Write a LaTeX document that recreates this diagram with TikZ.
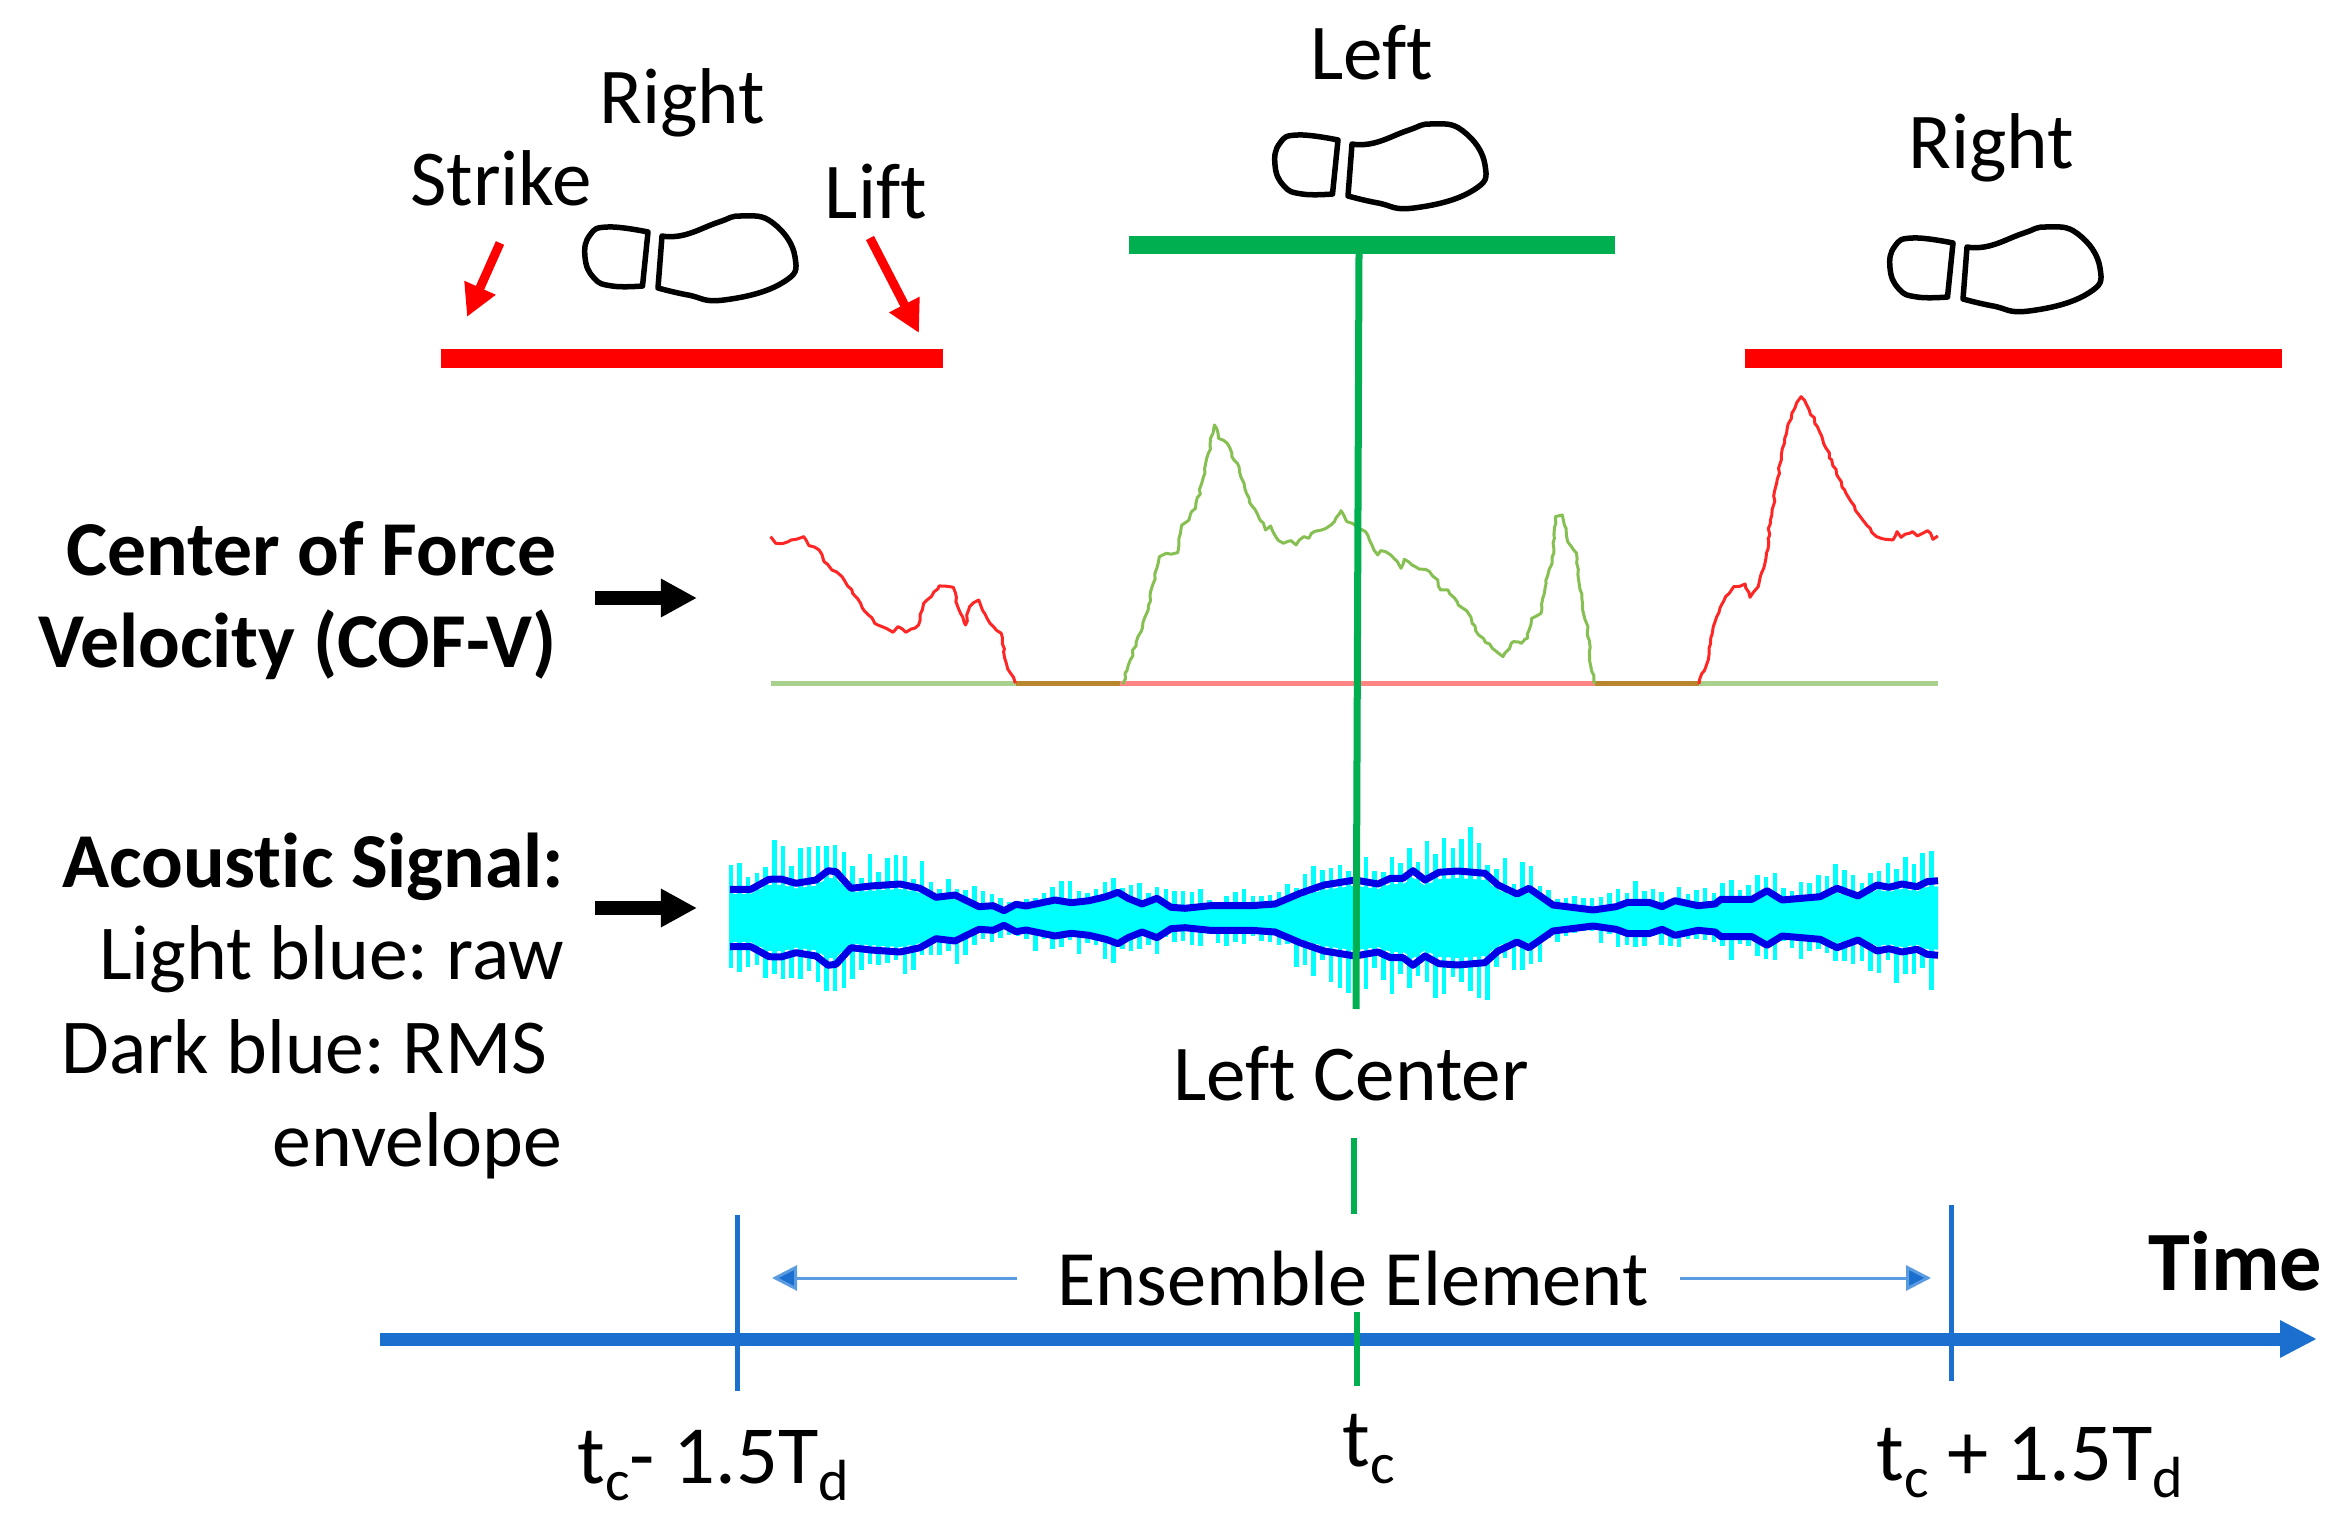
\documentclass[tikz,border=0pt]{standalone}
\usepackage{fontspec}
\setmainfont{Carlito}[Ligatures=NoCommon]
\frenchspacing
\usetikzlibrary{arrows.meta,decorations.pathmorphing}
\definecolor{axisblue}{HTML}{1A6FCF}
\definecolor{thinblue}{HTML}{5B9BE0}
\definecolor{markgreen}{HTML}{00B050}
\definecolor{cofgreen}{HTML}{86BF52}
\definecolor{basegreen}{HTML}{A9D18E}
\definecolor{basered}{HTML}{FF8585}
\definecolor{basebrown}{HTML}{B8862D}
\definecolor{rawcyan}{HTML}{00FFFF}
\definecolor{rmsblue}{HTML}{0000E6}
\newcommand{\lowtext}[1]{\raisebox{-5pt}{\fontsize{16.5}{16.5}\selectfont #1}}
% half width of the envelope along the time axis
\newcommand{\envlist}{751/28.7,769/38.7,781/39,796/34.7,816/38,828/47.3,836/46.3,851/29.7,871/32,900/34,920/29.7,936/20.7,955/23,979/11.3,993/12.3,1004/7.3,1016/13.7,1026/12,1055/18,1071/15.3,1089/17.3,1106/21.3,1118/25.7,1128/19.7,1142/14,1157/19.7,1171/10.7,1185/9.7,1210/12.3,1251/12.3,1275/14,1300/24.7,1324/33,1355/38,1378/34,1390.5/39.7,1403/39.7,1413/47.3,1425/38,1439/45.7,1458/47,1485/44.7,1498/33,1517/24,1529/29.7,1553/13,1593/8,1616/11.3,1628/15.7,1649/15.7,1662/11.3,1675/17.3,1698/12.3,1715/14,1721/18.7,1752/18.7,1767/27.3,1782/18,1820/21.3,1837/29.7,1858/22,1877/33,1889/30.7,1902/34,1917/31.3,1927/36.3,1938/37.3}

\begin{document}
\begin{tikzpicture}[x=.01cm, y=-.01cm,
        txt/.style={
            % The font:
            font=\fontsize{22.5}{26}\selectfont,
            % No padding round the text
            inner sep=0pt},
        boldtxt/.style={txt, font=\fontsize{22.1}{26}\selectfont\bfseries, anchor=base east},
        sidetxt/.style={txt, font=\fontsize{22.1}{26}\selectfont, anchor=base east},
        axistxt/.style={txt, font=\fontsize{23.5}{27}\selectfont, anchor=base west},
        footline/.style={line width=.055cm, line join=round},
        redarrow/.style={red, line width=.09cm, -{Triangle[length=.32cm, width=.32cm]}},
        blackarrow/.style={black, line width=.13cm, -{Triangle[length=.36cm, width=.36cm]}},
        spanarrow/.style={thinblue, line width=.03cm, -{Triangle[length=.25cm, width=.25cm, fill=axisblue]}},
        tick/.style={axisblue, line width=.05cm},
        greenline/.style={markgreen, line width=.055cm},
        cofline/.style={line width=.03cm, line join=round, decorate,
            decoration={random steps, segment length=.05cm, amplitude=.012cm}},
        baseline/.style={line width=.05cm}]
        \useasboundingbox (0,0) rectangle (2342,1528);
        \pgfmathsetseed{11}

        % footprints
        \foreach \x/\y in {0/0,690/-92,1305/11}{
          \begin{scope}[shift={(\x,\y)}]
            \draw [footline] plot [smooth, tension=.8] coordinates {(648,232) (608,227) (590,235) (585,257) (594,278) (612,286) (642.5,286)} -- cycle;
            \draw [footline] plot [smooth, tension=.8] coordinates {(662,236) (684,235) (719,222) (742,216) (773,223) (795,257) (782,283) (724,300) (688,295) (658,288)} -- cycle;
          \end{scope}
        }
        % stance bars
        \fill [red] (441,349) rectangle (943,368);
        \fill [markgreen] (1129,236) rectangle (1615,254);
        \fill [red] (1745,349) rectangle (2282,368);

        \coordinate (strikeFrom) at (500,243);
        \coordinate (strikeTo) at (467,317);
        \coordinate (liftFrom) at (870,238);
        \coordinate (liftTo) at (919,333);
        \draw [redarrow] (strikeFrom) -- (strikeTo);
        \draw [redarrow] (liftFrom) -- (liftTo);

        % COF-V traces
        \draw [baseline, basegreen] (771,684) -- (1016,684);
        \draw [baseline, basebrown] (1016,684) -- (1120,684);
        \draw [baseline, basered] (1120,684) -- (1595,684);
        \draw [baseline, basebrown] (1595,684) -- (1699,684);
        \draw [baseline, basegreen] (1699,684) -- (1938,684);
        \begin{scope}[shift={(740,380)}, xscale=.5102, yscale=.3333]
          \draw [cofline, red!85!white] plot coordinates {(60,470) (70,490) (85,490) (100,480) (125,470) (135,497) (155,510) (165,545) (180,570) (200,590) (230,655) (245,695) (270,735) (300,757) (310,740) (325,757) (350,735) (360,670) (375,650) (390,618) (418,622) (428,685) (442,735) (450,680) (468,660) (490,730) (512,760) (522,850) (540,910)};
          \draw [cofline, cofgreen] plot coordinates {(750,912) (765,840) (780,770) (800,690) (810,610) (822,530) (835,520) (858,518) (866,435) (880,420) (885,395) (893,385) (905,310) (918,220) (930,135) (938,175) (955,190) (968,240) (978,260) (988,310) (1002,375) (1015,405) (1030,450) (1040,438) (1050,470) (1065,490) (1080,482) (1090,495) (1105,470) (1115,475) (1120,460) (1140,450) (1165,425) (1178,392) (1190,425) (1208,440)};
        \end{scope}
        \begin{scope}[shift={(1350,380)}, xscale=.4082, yscale=.3333]
          \draw [cofline, cofgreen] plot coordinates {(15,445) (38,455) (68,525) (75,512) (100,525) (125,565) (133,538) (160,560) (195,575) (215,600) (222,630) (240,630) (265,675) (290,700) (315,765) (375,830) (400,785) (420,790) (435,775) (445,715) (468,700) (480,600) (495,550) (503,410) (520,405) (533,485) (555,520) (570,690) (583,740) (590,860) (600,912)};
          \draw [cofline, red!85!white] plot coordinates {(855,912) (880,820) (890,740) (910,675) (940,620) (968,612) (980,652) (1000,620) (1020,520) (1030,420) (1045,310) (1065,175) (1085,95) (1105,50) (1125,90) (1145,140) (1160,190) (1180,240) (1195,290) (1215,340) (1250,410) (1290,470) (1330,480) (1340,455) (1350,472) (1378,455) (1390,468) (1415,452) (1428,478) (1440,468)};
        \end{scope}

        % raw signal
        \foreach \x/\a [remember=\x as \px (initially 730), remember=\a as \pa (initially 28.7)] in \envlist {
          \fill [rawcyan] (\px,{918-.85*\pa}) -- (\x,{918-.85*\a}) -- (\x,{918+.85*\a}) -- (\px,{918+.85*\pa}) -- cycle;
          \pgfmathtruncatemacro\ka{ceil(\px/8.7)}
          \pgfmathtruncatemacro\kb{floor(\x/8.7)}
          \ifnum\ka>\kb\else
            \foreach \k in {\ka,...,\kb}{
              \pgfmathsetmacro\sx{8.7*\k}
              \pgfmathsetmacro\sa{\pa+(\a-\pa)*(\sx-\px)/(\x-\px)}
              \pgfmathsetmacro\st{918-\sa*1.25-rnd*(\sa*.55+9)}
              \pgfmathsetmacro\sb{918+\sa*1.25+rnd*(\sa*.55+9)}
              \draw [rawcyan, line width=.045cm] (\sx,\st) -- (\sx,\sb);
            }
          \fi
        }
        % RMS envelope
        \draw [rmsblue, line width=.07cm, line join=round] (730,889.3) \foreach \x/\a in \envlist { -- (\x,{918-\a}) };
        \draw [rmsblue, line width=.07cm, line join=round] (730,946.7) \foreach \x/\a in \envlist { -- (\x,{918+\a}) };

        % centre mark
        \coordinate (centerTop) at (1359,254);
        \coordinate (centerLow) at (1356,1009);
        \coordinate (gapTop) at (1354,1138);
        \coordinate (gapLow) at (1354,1214);
        \coordinate (axisTop) at (1357,1312);
        \coordinate (axisLow) at (1357,1386);
        \draw [greenline, line width=.07cm] (centerTop) -- (centerLow);
        \draw [greenline] (gapTop) -- (gapLow);

        % time axis
        \coordinate (axisStart) at (380,1339);
        \coordinate (axisEnd) at (2317,1339);
        \draw [axisblue, line width=.13cm, -{Triangle[length=.37cm, width=.35cm]}] (axisStart) -- (axisEnd);
        \draw [greenline] (axisTop) -- (axisLow);
        \coordinate (tickAtop) at (737,1215);
        \coordinate (tickAlow) at (737,1391);
        \coordinate (tickBtop) at (1951,1205);
        \coordinate (tickBlow) at (1951,1381);
        \draw [tick] (tickAtop) -- (tickAlow);
        \draw [tick] (tickBtop) -- (tickBlow);

        \coordinate (spanLeft) at (1017,1278);
        \coordinate (spanLeftTip) at (772,1278);
        \coordinate (spanRight) at (1680,1278);
        \coordinate (spanRightTip) at (1931,1278);
        \draw [spanarrow] (spanLeft) -- (spanLeftTip);
        \draw [spanarrow] (spanRight) -- (spanRightTip);

        % black pointers
        \coordinate (cofFrom) at (595,598);
        \coordinate (cofTo) at (697,598);
        \coordinate (acoFrom) at (595,908);
        \coordinate (acoTo) at (697,908);
        \draw [blackarrow] (cofFrom) -- (cofTo);
        \draw [blackarrow] (acoFrom) -- (acoTo);

        % labels
        \node [txt, anchor=base] (rightA) at (682,124) {Right};
        \node [txt, anchor=base] (strike) at (501,206) {Strike};
        \node [txt, anchor=base] (lift) at (876,219) {Lift};
        \node [txt, anchor=base] (leftA) at (1372,80) {Left};
        \node [txt, anchor=base] (rightB) at (1991,169) {Right};
        \node [boldtxt] (cofA) at (557,576) {Center of Force};
        \node [boldtxt] (cofB) at (557,668) {Velocity (COF-V)};
        \node [boldtxt] (acoA) at (565,887) {Acoustic Signal:};
        \node [sidetxt] (acoB) at (565,979) {Light blue: raw};
        \node [sidetxt] (acoC) at (548,1073) {Dark blue: RMS};
        \node [sidetxt] (acoD) at (563,1166) {envelope};
        \node [txt, anchor=base] (leftCenter) at (1351,1100) {Left Center};
        \node [txt, font=\fontsize{22.3}{26}\selectfont, anchor=base] (ensemble) at (1353,1305) {Ensemble Element};
        \node [boldtxt, font=\fontsize{24}{28}\selectfont\bfseries] (timeLabel) at (2323,1290) {Time};
        \node [axistxt] (tcMinus) at (577,1483) {t\lowtext{c}- 1.5T\lowtext{d}};
        \node [axistxt] (tcMid) at (1342,1466) {t\lowtext{c}};
        \node [axistxt] (tcPlus) at (1876,1480) {t\lowtext{c} + 1.5T\lowtext{d}};
\end{tikzpicture}
\end{document}
